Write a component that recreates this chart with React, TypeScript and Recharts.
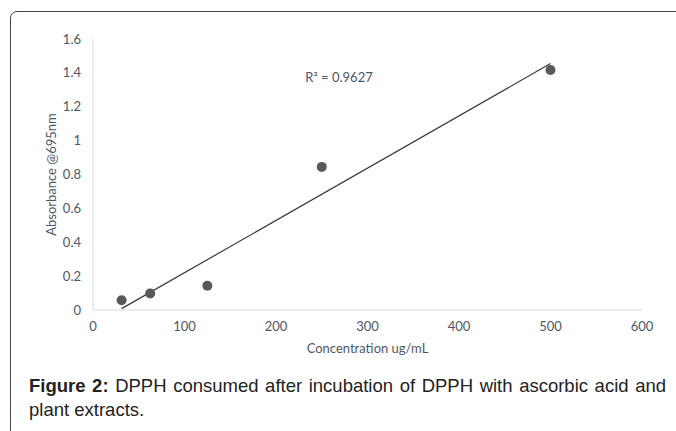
import React from "react";
import { ScatterChart, Scatter, XAxis, YAxis, ReferenceLine, ReferenceDot } from "recharts";

// concentrations (ug/mL) and absorbance readings
const concentrations = [31.25, 62.5, 125, 250, 500];
const absorbance = [0.058, 0.098, 0.143, 0.845, 1.417];

// linear trendline end points as drawn in the figure
const trendX = [31.25, 500];
const trendY = [0.008, 1.455];
const rSquaredText = "R² = 0.9627";
const rSquaredAt = { x: 232, y: 1.375 };

const xTicks = [0, 100, 200, 300, 400, 500, 600];
const yTicks = [0, 0.2, 0.4, 0.6, 0.8, 1, 1.2, 1.4, 1.6];

const points = concentrations.map((c, i) => ({ x: c, y: absorbance[i] }));

const chartFont = "Lato, 'Open Sans', sans-serif";
const textColor = "#4d5668";
const axisColor = "#d4d8de";
const fontSize = 13;

export default function App() {
  return (
    <div
      style={{
        position: "absolute",
        left: 0,
        top: 0,
        width: 676,
        height: 431,
        overflow: "hidden",
        background: "#fff",
      }}
    >
      <div
        style={{
          position: "absolute",
          left: 10,
          top: 11,
          width: 720,
          height: 460,
          border: "1.5px solid #444",
          borderTopLeftRadius: 7,
        }}
      />
      <div style={{ position: "absolute", left: 0, top: 0 }}>
        <ScatterChart
          width={676}
          height={370}
          margin={{ top: 39, right: 34, bottom: 20, left: 33 }}
          style={{ fontFamily: chartFont }}
        >
          <XAxis
            type="number"
            dataKey="x"
            domain={[0, 600]}
            ticks={xTicks}
            tickLine={false}
            tickMargin={6}
            height={40}
            stroke={axisColor}
            tick={{ fill: textColor, fontSize }}
            label={{
              value: "Concentration ug/mL",
              position: "insideBottom",
              offset: -3,
              fill: textColor,
              fontSize,
            }}
          />
          <YAxis
            type="number"
            dataKey="y"
            domain={[0, 1.6]}
            ticks={yTicks}
            tickLine={false}
            tickMargin={6}
            width={60}
            stroke={axisColor}
            tick={{ fill: textColor, fontSize }}
            label={{
              value: "Absorbance @695nm",
              angle: -90,
              position: "insideLeft",
              offset: 18,
              fill: textColor,
              fontSize,
              style: { textAnchor: "middle" },
            }}
          />
          <ReferenceLine
            segment={[
              { x: trendX[0], y: trendY[0] },
              { x: trendX[1], y: trendY[1] },
            ]}
            stroke="#3a3a3a"
            strokeWidth={1.2}
            ifOverflow="visible"
          />
          <ReferenceDot
            x={rSquaredAt.x}
            y={rSquaredAt.y}
            r={0}
            stroke="none"
            fill="none"
            label={{
              value: rSquaredText,
              position: "right",
              offset: 0,
              fill: textColor,
              fontSize,
            }}
          />
          <Scatter
            data={points}
            fill="#595959"
            shape={(props: any) => (
              <circle cx={props.cx} cy={props.cy} r={5} fill="#595959" />
            )}
            isAnimationActive={false}
          />
        </ScatterChart>
      </div>
      <div
        style={{
          position: "absolute",
          left: 29,
          top: 374,
          width: 637,
          fontFamily: "'Liberation Sans', Arial, sans-serif",
          fontSize: 18.5,
          lineHeight: "24px",
          color: "#222",
          textAlign: "justify",
        }}
      >
        <b>Figure 2:</b> DPPH consumed after incubation of DPPH with ascorbic acid and plant extracts.
      </div>
    </div>
  );
}
